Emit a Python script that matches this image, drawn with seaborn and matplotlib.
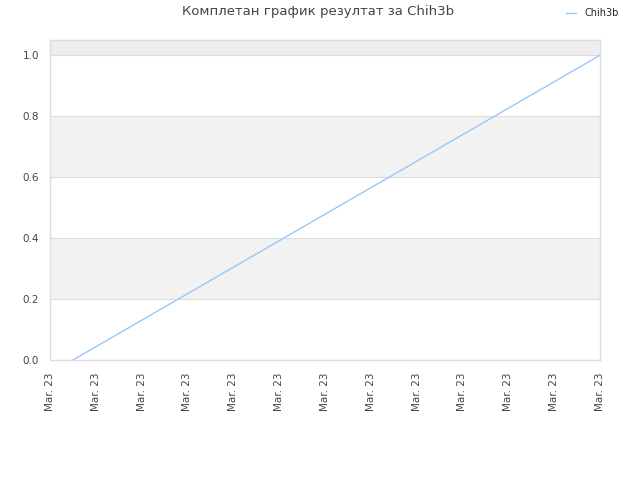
import matplotlib
matplotlib.use('Agg')
import matplotlib.pyplot as plt
import seaborn as sns
import pandas as pd

# Data
run_x = [0.5, 12.0]
scores = [0.0, 1.0]
tick_labels = ['Mar. 23'] * 13
player = 'Chih3b'
title = 'Комплетан график резултат за Chih3b'

df = pd.DataFrame({'x': run_x, 'score': scores})

sns.set_style("white")
plt.rcParams['font.family'] = ['DejaVu Sans']

fig = plt.figure(figsize=(6.4, 4.8), dpi=100)
ax = fig.add_axes([50/640, 120/480, 550/640, 320/480])

# alternating horizontal bands
ax.axhspan(1.0, 1.05, color='#eeeeee', zorder=0, lw=0)
for lo in [0.2, 0.6]:
    ax.axhspan(lo, lo + 0.2, color='#f2f2f2', zorder=0, lw=0)
for yv in [0.2, 0.4, 0.6, 0.8, 1.0]:
    ax.axhline(yv, color='#dddddd', lw=0.8, zorder=1)

sns.lineplot(ax=ax, data=df, x='x', y='score', color='#99c8f5', lw=1, label=player, zorder=3)

ax.set_xlim(0, 12)
ax.set_ylim(0, 1.05)
ax.set_xticks(range(len(tick_labels)))
ax.set_xticklabels(tick_labels, rotation=90, fontsize=7.5, color='#444444')
ax.set_yticks([0.0, 0.2, 0.4, 0.6, 0.8, 1.0])
ax.set_yticklabels(['0.0', '0.2', '0.4', '0.6', '0.8', '1.0'], fontsize=7.5, color='#444444')
ax.tick_params(axis='y', length=0, pad=8)
ax.tick_params(axis='x', length=0, pad=9)
ax.set_xlabel('')
ax.set_ylabel('')
for s in ax.spines.values():
    s.set_color('#dddddd')
    s.set_linewidth(1)

fig.text(0.497, 1 - 12/480, title, ha='center', va='center', fontsize=9.5, color='#444444')
ax.legend(loc='center', bbox_to_anchor=(592/640, 1 - 13/480), bbox_transform=fig.transFigure,
          frameon=False, fontsize=7, handlelength=1.1, handletextpad=0.8)

fig.savefig('out.png', dpi=100)
